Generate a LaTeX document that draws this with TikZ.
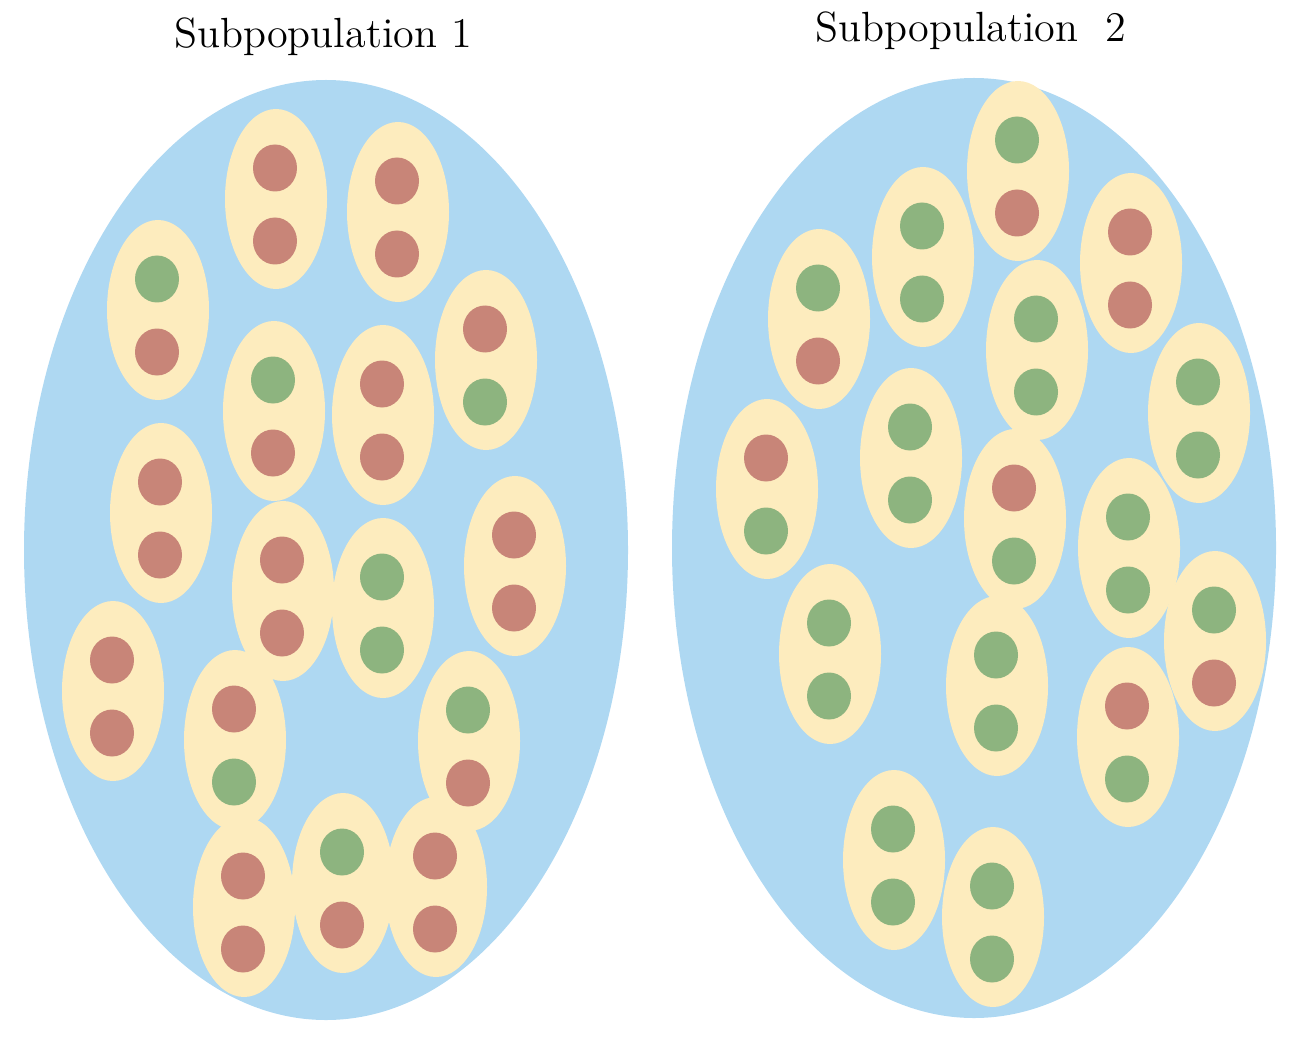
\documentclass[tikz,border=0pt]{standalone}
\usepackage{tikz}
\usetikzlibrary{positioning}
\definecolor{poolblue}{RGB}{174, 216, 242}
\definecolor{cellyellow}{RGB}{253, 236, 190}
\definecolor{allred}{RGB}{200, 133, 120}
\definecolor{allgreen}{RGB}{141, 180, 127}
\tikzset{
  pool/.style={fill=poolblue},
  cellbody/.style={fill=cellyellow},
  R/.style={fill=allred},
  G/.style={fill=allgreen},
  ttl/.style={font=\fontsize{12}{14}\selectfont, anchor=base, inner sep=0pt},
}
% one diploid cell: centre x, centre y, upper allele, lower allele
\newcommand{\cellpair}[4]{%
  \fill[cellbody] (#1,#2) ellipse [x radius=51, y radius=90];
  \fill[#3] (#1-1,#2-31) ellipse [x radius=22, y radius=23.5];
  \fill[#4] (#1-1,#2+42) ellipse [x radius=22, y radius=23.5];
}

\begin{document}
\begin{tikzpicture}[x=0.01cm, y=-0.01cm]
  \useasboundingbox (0,0) rectangle (1304,1058);
  % titles
  \node[ttl] (sub1) at (323,48) {Subpopulation 1};
  \node[ttl] (sub2) at (971,42) {Subpopulation\ \ 2};
  % the two pools
  \fill[pool] (326,550) ellipse [x radius=302, y radius=470];
  \fill[pool] (974,548) ellipse [x radius=302, y radius=470];
  % subpopulation 1
  \cellpair{276}{199}{R}{R}
  \cellpair{398}{212}{R}{R}
  \cellpair{158}{310}{G}{R}
  \cellpair{274}{411}{G}{R}
  \cellpair{383}{415}{R}{R}
  \cellpair{486}{360}{R}{G}
  \cellpair{161}{513}{R}{R}
  \cellpair{283}{591}{R}{R}
  \cellpair{383}{608}{G}{G}
  \cellpair{515}{566}{R}{R}
  \cellpair{113}{691}{R}{R}
  \cellpair{235}{740}{R}{G}
  \cellpair{469}{741}{G}{R}
  \cellpair{244}{907}{R}{R}
  \cellpair{343}{883}{G}{R}
  \cellpair{436}{887}{R}{R}
  % subpopulation 2
  \cellpair{1018}{171}{G}{R}
  \cellpair{923}{257}{G}{G}
  \cellpair{819}{319}{G}{R}
  \cellpair{1131}{263}{R}{R}
  \cellpair{1037}{350}{G}{G}
  \cellpair{1199}{413}{G}{G}
  \cellpair{767}{489}{R}{G}
  \cellpair{911}{458}{G}{G}
  \cellpair{1015}{519}{R}{G}
  \cellpair{1129}{548}{G}{G}
  \cellpair{830}{654}{G}{G}
  \cellpair{997}{686}{G}{G}
  \cellpair{1215}{641}{G}{R}
  \cellpair{1128}{737}{R}{G}
  \cellpair{894}{860}{G}{G}
  \cellpair{993}{917}{G}{G}
\end{tikzpicture}
\end{document}
